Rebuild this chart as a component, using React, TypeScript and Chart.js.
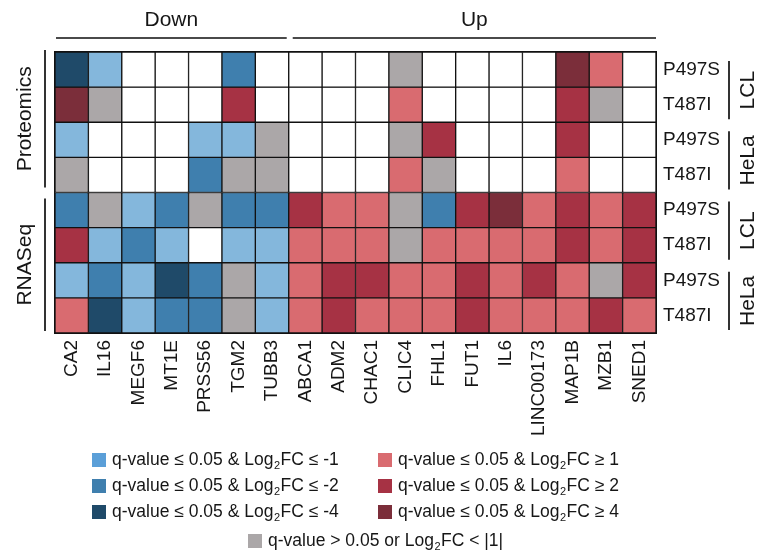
import React, { useEffect, useRef } from 'react';
import { Chart, registerables } from 'chart.js';

Chart.register(...registerables);

const genes = ['CA2', 'IL16', 'MEGF6', 'MT1E', 'PRSS56', 'TGM2', 'TUBB3', 'ABCA1', 'ADM2', 'CHAC1', 'CLIC4', 'FHL1', 'FUT1', 'IL6', 'LINC00173', 'MAP1B', 'MZB1', 'SNED1'];
const rowLabels = ['P497S', 'T487I', 'P497S', 'T487I', 'P497S', 'T487I', 'P497S', 'T487I'];
const cellLines = ['LCL', 'HeLa', 'LCL', 'HeLa'];
const methods = ['Proteomics', 'RNASeq'];
const directions = ['Down', 'Up'];
const downGeneCount = 7;

// codes: null = not measured, 0 = not significant, -1/-2/-4 and 1/2/4 = Log2FC class
const protLclP497S = [-4, -1, null, null, null, -2, null, null, null, null, 0, null, null, null, null, 4, 1, null];
const protLclT487I = [4, 0, null, null, null, 2, null, null, null, null, 1, null, null, null, null, 2, 0, null];
const protHelaP497S = [-1, null, null, null, -1, -1, 0, null, null, null, 0, 2, null, null, null, 2, null, null];
const protHelaT487I = [0, null, null, null, -2, 0, 0, null, null, null, 1, 0, null, null, null, 1, null, null];
const rnaLclP497S = [-2, 0, -1, -2, 0, -2, -2, 2, 1, 1, 0, -2, 2, 4, 1, 2, 1, 2];
const rnaLclT487I = [2, -1, -2, -1, null, -1, -1, 1, 1, 1, 0, 1, 1, 1, 1, 2, 1, 2];
const rnaHelaP497S = [-1, -2, -1, -4, -2, 0, -1, 1, 2, 2, 1, 1, 2, 1, 2, 1, 0, 2];
const rnaHelaT487I = [1, -4, -1, -2, -2, 0, -1, 1, 2, 1, 1, 1, 2, 1, 1, 1, 2, 1];

const rows = [protLclP497S, protLclT487I, protHelaP497S, protHelaT487I, rnaLclP497S, rnaLclT487I, rnaHelaP497S, rnaHelaT487I];

const legendCodes = [-1, -2, -4, 1, 2, 4, 0];
const legendPrefix = ['q-value ≤ 0.05 & Log', 'q-value ≤ 0.05 & Log', 'q-value ≤ 0.05 & Log', 'q-value ≤ 0.05 & Log', 'q-value ≤ 0.05 & Log', 'q-value ≤ 0.05 & Log', 'q-value > 0.05 or Log'];
const legendSuffix = ['FC ≤ -1', 'FC ≤ -2', 'FC ≤ -4', 'FC ≥ 1', 'FC ≥ 2', 'FC ≥ 4', 'FC < |1|'];

const FONT = "'Liberation Sans', Arial, Helvetica, sans-serif";
const TEXT = '#161616';

const colorFor = (code: number | null): string => {
  switch (code) {
    case -1: return '#84b7dc';
    case -2: return '#3f7fae';
    case -4: return '#1f4a69';
    case 1: return '#d96b70';
    case 2: return '#a63244';
    case 4: return '#7b2e3a';
    case 0: return '#aba7a8';
    default: return '#ffffff';
  }
};
const legendColorFor = (code: number): string => (code === -1 ? '#5b9fd8' : colorFor(code));

const annotations = {
  id: 'annotations',
  afterDraw(chart: any) {
    const { ctx, chartArea } = chart;
    const { left, right, top, bottom } = chartArea;
    const xs = chart.scales.x;
    const ys = chart.scales.y;
    const cellW = (right - left) / genes.length;
    ctx.save();
    // outer frame
    ctx.strokeStyle = '#111';
    ctx.lineWidth = 1;
    ctx.strokeRect(left - 0.5, top - 0.5, right - left + 1, bottom - top + 1);

    ctx.fillStyle = TEXT;
    ctx.strokeStyle = '#4a4a4a';
    ctx.lineWidth = 2;
    // top groups
    const split = xs.getPixelForValue(downGeneCount) - cellW / 2;
    const groups = [[left + 1, split - 2], [split + 4, right]];
    groups.forEach(([a, b], i) => {
      ctx.beginPath();
      ctx.moveTo(a, top - 14);
      ctx.lineTo(b, top - 14);
      ctx.stroke();
      ctx.font = `21px ${FONT}`;
      ctx.textAlign = 'center';
      ctx.textBaseline = 'middle';
      ctx.fillText(directions[i], (a + b) / 2, top - 32);
    });

    // left method brackets
    ctx.strokeStyle = '#333';
    methods.forEach((m, i) => {
      const y0 = ys.getPixelForValue(i * 4);
      const y1 = ys.getPixelForValue(i * 4 + 4);
      const a = y0 + (i === 0 ? -2 : 6);
      const b = y1 - (i === 0 ? 5 : 2);
      ctx.beginPath();
      ctx.moveTo(left - 10, a);
      ctx.lineTo(left - 10, b);
      ctx.stroke();
      ctx.save();
      ctx.translate(left - 30, (a + b) / 2);
      ctx.rotate(-Math.PI / 2);
      ctx.font = `21px ${FONT}`;
      ctx.textAlign = 'center';
      ctx.textBaseline = 'middle';
      ctx.fillText(m, 0, 0);
      ctx.restore();
    });

    // right cell-line brackets
    cellLines.forEach((c, i) => {
      const y0 = ys.getPixelForValue(i * 2);
      const y1 = ys.getPixelForValue(i * 2 + 2);
      const a = y0 + 9;
      const b = y1 - 3;
      ctx.beginPath();
      ctx.moveTo(right + 73, a);
      ctx.lineTo(right + 73, b);
      ctx.stroke();
      ctx.save();
      ctx.translate(right + 92, (a + b) / 2);
      ctx.rotate(-Math.PI / 2);
      ctx.font = `21px ${FONT}`;
      ctx.textAlign = 'center';
      ctx.textBaseline = 'middle';
      ctx.fillText(c, 0, 0);
      ctx.restore();
    });

    // legend
    const slots = [
      [92, 460], [92, 486], [92, 512],
      [378, 460], [378, 486], [378, 512],
      [248, 541],
    ];
    legendCodes.forEach((code, i) => {
      const [sx, sy] = slots[i];
      ctx.fillStyle = legendColorFor(code);
      ctx.fillRect(sx, sy - 7, 14, 14);
      ctx.fillStyle = TEXT;
      ctx.textAlign = 'left';
      ctx.textBaseline = 'middle';
      ctx.font = `17.5px ${FONT}`;
      let tx = sx + 20;
      ctx.fillText(legendPrefix[i], tx, sy);
      tx += ctx.measureText(legendPrefix[i]).width;
      ctx.font = `11px ${FONT}`;
      ctx.fillText('2', tx + 0.5, sy + 6);
      tx += ctx.measureText('2').width + 1;
      ctx.font = `17.5px ${FONT}`;
      ctx.fillText(legendSuffix[i], tx, sy);
    });
    ctx.restore();
  },
};

export default function App() {
  const ref = useRef<HTMLCanvasElement | null>(null);
  useEffect(() => {
    if (!ref.current) return;
    const datasets = rows.map((row, i) => ({
      label: rowLabels[i],
      data: row.map(() => [i, i + 1]),
      backgroundColor: row.map((c) => colorFor(c)),
      borderColor: '#111',
      borderWidth: 1,
      borderSkipped: false,
      grouped: false,
      barPercentage: 1,
      categoryPercentage: 1,
      xAxisID: 'x',
      yAxisID: 'y',
    }));
    const chart = new Chart(ref.current, {
      type: 'bar',
      data: { labels: genes, datasets: datasets as any },
      options: {
        responsive: false,
        animation: false,
        events: [],
        layout: { padding: { top: 52, left: 55, right: 0, bottom: 0 } },
        plugins: { legend: { display: false }, tooltip: { enabled: false } },
        scales: {
          x: {
            type: 'category',
            position: 'bottom',
            grid: { display: false, drawTicks: false, tickLength: 0 },
            border: { display: false },
            ticks: {
              color: TEXT,
              font: { family: FONT, size: 19 },
              minRotation: 90,
              maxRotation: 90,
              autoSkip: false,
              padding: 7,
            },
            afterFit: (s: any) => { s.height = 220; },
          },
          y: {
            type: 'linear',
            min: 0,
            max: 8,
            reverse: true,
            display: false,
          },
          yRow: {
            type: 'category',
            axis: 'y',
            position: 'right',
            labels: rowLabels,
            offset: true,
            grid: { display: false, drawTicks: false, tickLength: 0 },
            border: { display: false },
            ticks: { color: TEXT, font: { family: FONT, size: 19 }, padding: 7, autoSkip: false },
            afterFit: (s: any) => { s.width = 104; },
          },
        } as any,
      },
      plugins: [annotations],
    });
    return () => chart.destroy();
  }, []);
  return (
    <div style={{ position: 'fixed', left: 0, top: 0, width: 760, height: 553, background: '#fff' }}>
      <canvas ref={ref} width={760} height={553} style={{ display: 'block' }} />
    </div>
  );
}
